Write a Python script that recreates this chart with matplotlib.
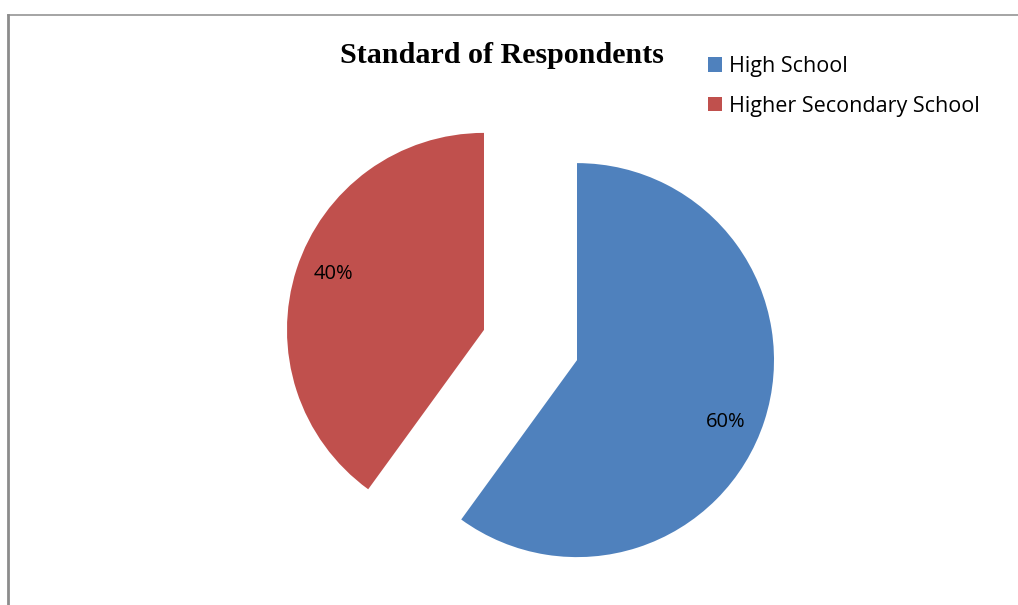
import math
import matplotlib
matplotlib.use("Agg")
import matplotlib.pyplot as plt

categories = ["High School", "Higher Secondary School"]
values = [60, 40]
colors = ["#4F81BD", "#C0504D"]
title = "Standard of Respondents"

W, H = 1018, 605
fig = plt.figure(figsize=(W / 100, H / 100), dpi=100)
ax = fig.add_axes([0, 0, 1, 1])

R = 197
cx, cy = 530.5, H - 345
off = 48.9

wedges, texts, autotexts = ax.pie(
    values, colors=colors, startangle=90, counterclock=False,
    radius=R, center=(cx, cy), explode=[off, off],
    autopct="%1.0f%%", pctdistance=0.82, frame=True,
    textprops=dict(fontsize=14.5, family=["Open Sans", "DejaVu Sans"], color="black"),
)
# nudge percentage labels slightly clockwise, as in the reference
for w, t in zip(wedges, autotexts):
    th = math.radians((w.theta1 + w.theta2) / 2 - 3.4)
    x0, y0 = w.center
    t.set_position((x0 + 0.818 * R * math.cos(th) - 1,
                    y0 + 0.818 * R * math.sin(th) - 3))
    t.set_ha("center")
    t.set_va("center")

ax.set_xlim(0, W)
ax.set_ylim(0, H)
ax.set_aspect("equal")
ax.axis("off")

# frame lines
ax.plot([8.5, 8.5], [0, H - 14.5], color="#8c8c8c", lw=2.0, clip_on=False)
ax.plot([8, W], [H - 14.5, H - 14.5], color="#8c8c8c", lw=1.1, clip_on=False)

ax.text(502.4, H - 63.3, title, ha="center", va="baseline", fontsize=21.6,
        fontweight="bold", family=["Liberation Serif", "DejaVu Serif"])

leg = ax.legend(wedges, categories, loc="upper left",
                bbox_to_anchor=(708, H - 56), bbox_transform=ax.transData,
                frameon=False, handlelength=0.65, handleheight=0.65,
                handletextpad=0.33, labelspacing=0.86, borderpad=0,
                borderaxespad=0,
                prop=dict(family=["Open Sans", "DejaVu Sans"], size=15.5))

fig.savefig("out.png", dpi=100, facecolor="white")
